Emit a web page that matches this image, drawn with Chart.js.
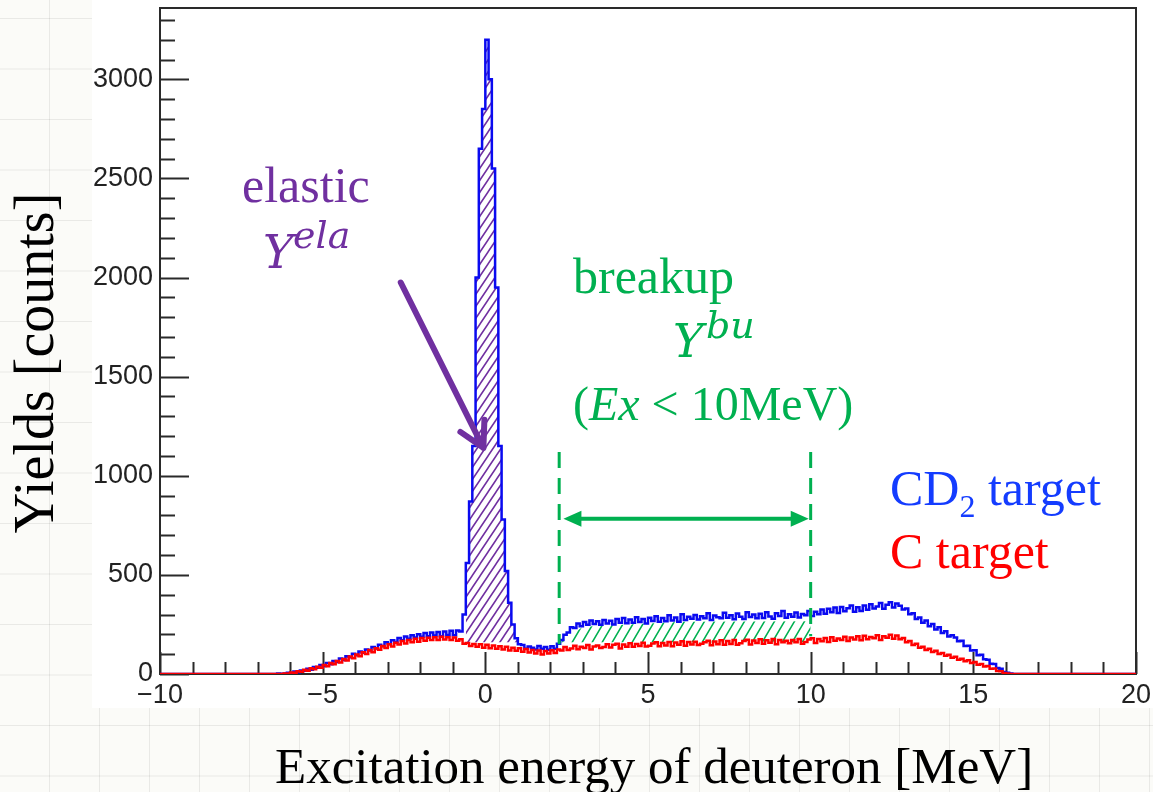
<!DOCTYPE html>
<html>
<head>
<meta charset="utf-8">
<script src="https://cdn.jsdelivr.net/npm/chart.js@4.4.1/dist/chart.umd.min.js"></script>
<style>
  html, body { margin: 0; padding: 0; background: #fff; }
  canvas { display: block; }
</style>
</head>
<body>
<canvas id="yieldChart" width="1153" height="792"></canvas>
<script>
// histogram binning (MeV): first bin left edge and bin width
const binStart = -6.5;
const binWidth = 0.1;
const xRange = [-10, 20];
const yMax = 3360;
const xTickValues = [-10, -5, 0, 5, 10, 15, 20];
const yTickValues = [0, 500, 1000, 1500, 2000, 2500, 3000];

// CD2 target counts, one row = 1 MeV (10 bins), from -6.5 to 16.4
const cd2Counts = [
    0, 0, 3, 0, 2, 6, 4, 12, 9, 18,
    16, 27, 22, 35, 31, 45, 40, 56, 49, 66,
    60, 78, 71, 89, 84, 102, 95, 114, 107, 124,
    118, 136, 129, 148, 140, 160, 151, 170, 162, 181,
    170, 189, 178, 196, 184, 201, 188, 207, 191, 210,
    194, 212, 190, 215, 197, 218, 195, 220, 215, 300,
    560, 870, 1150, 2000, 2650, 2850, 3200, 3000, 2550, 1950,
    1150, 780, 520, 360, 250, 180, 150, 146, 128, 139,
    132, 124, 141, 127, 136, 122, 140, 128, 152, 172,
    198, 210, 236, 232, 255, 241, 262, 249, 270, 252,
    266, 248, 272, 255, 269, 250, 277, 258, 283, 256,
    275, 259, 286, 262, 278, 255, 284, 268, 291, 263,
    282, 266, 296, 270, 285, 264, 302, 273, 289, 279,
    298, 275, 291, 281, 306, 272, 295, 286, 281, 309,
    284, 297, 276, 305, 289, 278, 311, 287, 300, 281,
    304, 283, 312, 290, 279, 306, 293, 318, 284, 301,
    289, 310, 285, 303, 296, 318, 292, 314, 301, 326,
    304, 329, 311, 335, 308, 338, 316, 332, 345, 314,
    337, 318, 346, 324, 352, 330, 341, 358, 329, 349,
    362, 335, 356, 344, 325, 331, 302, 306, 278, 285,
    258, 270, 241, 252, 224, 236, 207, 216, 189, 196,
    184, 165, 168, 141, 142, 118, 120, 95, 97, 74,
    72, 52, 50, 30, 26, 10, 6, 2, 0, 0
];

// C target counts, same bins
const cCounts = [
    0, 0, 0, 0, 3, 2, 8, 6, 14, 11,
    21, 17, 29, 24, 36, 31, 45, 39, 55, 49,
    65, 58, 76, 68, 88, 80, 99, 90, 110, 101,
    121, 110, 130, 122, 141, 131, 150, 139, 158, 149,
    166, 154, 172, 160, 178, 163, 181, 168, 183, 171,
    185, 172, 188, 174, 186, 171, 184, 168, 175, 152,
    157, 141, 151, 137, 150, 133, 147, 130, 144, 127,
    140, 124, 137, 119, 133, 117, 130, 112, 126, 109,
    121, 103, 118, 99, 116, 104, 120, 106, 123, 118,
    136, 121, 129, 143, 125, 138, 131, 146, 124, 139,
    144, 131, 136, 150, 134, 147, 152, 129, 149, 138,
    155, 137, 151, 141, 158, 139, 143, 154, 160, 140,
    157, 144, 162, 140, 159, 147, 165, 142, 161, 149,
    163, 146, 152, 160, 168, 145, 164, 150, 170, 148,
    166, 151, 171, 147, 155, 167, 173, 149, 169, 156,
    175, 152, 170, 158, 176, 150, 172, 160, 168, 155,
    171, 160, 177, 153, 162, 174, 180, 157, 176, 165,
    182, 161, 185, 168, 179, 171, 188, 166, 184, 174,
    190, 170, 193, 175, 187, 180, 196, 172, 191, 183,
    198, 178, 194, 175, 181, 160, 166, 146, 152, 132,
    138, 121, 128, 111, 117, 101, 106, 92, 97, 82,
    87, 72, 77, 64, 69, 56, 60, 47, 50, 38,
    40, 27, 28, 15, 14, 5, 3, 0, 0, 0
];

// hatched yields
const elasticRange = [-0.6, 1.1];
const breakupE = [2.3, 3.0, 6.1, 10.0];
const breakupTop = [158, 238, 263, 266];
const hatchFloor = 160;
const breakupCut = [2.27, 10.0];

const PURPLE = '#7030a0';
const GREEN = '#00b050';

function toSteps(counts) {
    const pts = [{ x: xRange[0], y: 0 }];
    counts.forEach((c, i) => pts.push({ x: +(binStart + i * binWidth).toFixed(2), y: c }));
    pts.push({ x: +(binStart + counts.length * binWidth).toFixed(2), y: 0 });
    pts.push({ x: xRange[1], y: 0 });
    return pts;
}

function hatch(color, w, h, lw) {
    const c = document.createElement('canvas');
    c.width = w; c.height = h;
    const g = c.getContext('2d');
    g.strokeStyle = color;
    g.lineWidth = lw;
    g.beginPath();
    for (let k = -1; k <= 1; k++) {
        g.moveTo(k * w - w, 2 * h);
        g.lineTo(k * w + 2 * w, -h);
    }
    g.stroke();
    return g.createPattern(c, 'repeat');
}

const cd2Steps = toSteps(cd2Counts);
const cSteps = toSteps(cCounts);

// elastic peak part of the CD2 histogram
const elasticSteps = cd2Steps.filter(p => p.x >= elasticRange[0] - 1e-6 && p.x < elasticRange[1] - 1e-6);
elasticSteps.push({ x: elasticRange[1], y: hatchFloor });

const breakupPts = breakupE.map((e, i) => ({ x: e, y: breakupTop[i] }));

// paper-grid background with the white plot panel
const backdrop = {
    id: 'backdrop',
    beforeDraw(chart) {
        const ctx = chart.ctx;
        const W = chart.width, H = chart.height;
        ctx.save();
        ctx.fillStyle = '#fbfbf8';
        ctx.fillRect(0, 0, W, H);
        ctx.strokeStyle = 'rgba(0,0,0,0.07)';
        ctx.lineWidth = 1;
        ctx.beginPath();
        for (let x = 49.5; x < W; x += 50) { ctx.moveTo(x, 0); ctx.lineTo(x, H); }
        for (let y = 18.5; y < H; y += 50.5) { ctx.moveTo(0, y); ctx.lineTo(W, y); }
        ctx.stroke();
        ctx.fillStyle = '#ffffff';
        ctx.fillRect(92, 0, W - 92, 708);
        ctx.restore();
    }
};

// ROOT style frame with inward ticks
const frame = {
    id: 'frame',
    beforeDatasetsDraw(chart) {
        const { ctx, chartArea: a, scales: { x, y } } = chart;
        ctx.save();
        ctx.strokeStyle = '#2a2a2a';
        ctx.lineWidth = 2;
        ctx.strokeRect(a.left, a.top, a.right - a.left, a.bottom - a.top);
        ctx.beginPath();
        for (let v = xRange[0]; v <= xRange[1]; v++) {
            const px = Math.round(x.getPixelForValue(v)) + 0.5;
            const len = v % 5 === 0 ? 22 : 12;
            ctx.moveTo(px, a.bottom);
            ctx.lineTo(px, a.bottom - len);
        }
        for (let v = 0; v <= 3300; v += 100) {
            const py = Math.round(y.getPixelForValue(v)) + 0.5;
            const len = v % 500 === 0 ? 29 : 15;
            ctx.moveTo(a.left, py);
            ctx.lineTo(a.left + len, py);
        }
        ctx.stroke();
        ctx.restore();
    }
};

function runs(ctx, x, y, parts) {
    parts.forEach(p => {
        ctx.font = p.font;
        ctx.fillText(p.t, x, y + (p.dy || 0));
        x += ctx.measureText(p.t).width;
    });
}

const notes = {
    id: 'notes',
    afterDatasetsDraw(chart) {
        const { ctx, scales: { x, y } } = chart;
        const px = v => x.getPixelForValue(v);
        const py = v => y.getPixelForValue(v);
        ctx.save();

        // dashed limits of the breakup region
        ctx.strokeStyle = GREEN;
        ctx.lineWidth = 3;
        ctx.setLineDash([16, 10]);
        ctx.beginPath();
        ctx.moveTo(px(breakupCut[0]), py(1120));
        ctx.lineTo(px(breakupCut[0]), py(150));
        ctx.moveTo(px(breakupCut[1]), py(1120));
        ctx.lineTo(px(breakupCut[1]), py(190));
        ctx.stroke();
        ctx.setLineDash([]);

        // double arrow
        const ay = py(783), x1 = px(2.4), x2 = px(9.94);
        ctx.lineWidth = 4;
        ctx.beginPath();
        ctx.moveTo(x1 + 10, ay);
        ctx.lineTo(x2 - 10, ay);
        ctx.stroke();
        ctx.fillStyle = GREEN;
        ctx.beginPath();
        ctx.moveTo(x1, ay); ctx.lineTo(x1 + 18, ay - 8); ctx.lineTo(x1 + 18, ay + 8); ctx.closePath();
        ctx.moveTo(x2, ay); ctx.lineTo(x2 - 18, ay - 8); ctx.lineTo(x2 - 18, ay + 8); ctx.closePath();
        ctx.fill();

        // elastic arrow
        const sx = px(-2.6), sy = py(1975), tx = px(-0.06), ty = py(1141);
        const ang = Math.atan2(ty - sy, tx - sx);
        ctx.strokeStyle = PURPLE;
        ctx.lineWidth = 6;
        ctx.lineCap = 'round';
        ctx.beginPath();
        ctx.moveTo(sx, sy);
        ctx.lineTo(tx, ty);
        for (const d of [-0.5, 0.5]) {
            ctx.moveTo(tx, ty);
            ctx.lineTo(tx - 28 * Math.cos(ang + d), ty - 28 * Math.sin(ang + d));
        }
        ctx.stroke();
        ctx.restore();
    },
    afterDraw(chart) {
        const ctx = chart.ctx;
        const serif = '"Liberation Serif", "Times New Roman", serif';
        ctx.save();
        ctx.textBaseline = 'alphabetic';
        ctx.textAlign = 'left';

        ctx.fillStyle = PURPLE;
        ctx.font = `50px ${serif}`;
        ctx.fillText('elastic', 242, 202);
        ctx.font = 'italic 46px "DejaVu Serif", serif';
        ctx.fillText('Y', 263, 268);
        ctx.font = 'italic 38px "DejaVu Serif", serif';
        ctx.fillText('ela', 293, 248);

        ctx.fillStyle = GREEN;
        ctx.font = `50px ${serif}`;
        ctx.fillText('breakup', 573, 293);
        ctx.font = 'italic 46px "DejaVu Serif", serif';
        ctx.fillText('Y', 673, 357);
        ctx.font = 'italic 38px "DejaVu Serif", serif';
        ctx.fillText('bu', 706, 338);
        runs(ctx, 573, 420, [
            { t: '(', font: `48px ${serif}` },
            { t: 'Ex', font: `italic 48px ${serif}` },
            { t: ' < 10MeV)', font: `48px ${serif}` }
        ]);

        ctx.fillStyle = '#143cff';
        runs(ctx, 890, 505, [
            { t: 'CD', font: `50px ${serif}` },
            { t: '2', font: `32px ${serif}`, dy: 12 },
            { t: ' target', font: `50px ${serif}` }
        ]);
        ctx.fillStyle = '#ff0000';
        ctx.font = `50px ${serif}`;
        ctx.fillText('C target', 890, 568);

        // axis titles
        ctx.fillStyle = '#000';
        ctx.font = `51px ${serif}`;
        ctx.fillText('Excitation energy of deuteron [MeV]', 275, 783);
        ctx.translate(53, 363);
        ctx.rotate(-Math.PI / 2);
        ctx.textAlign = 'center';
        ctx.font = `56px ${serif}`;
        ctx.fillText('Yields [counts]', 0, 0);
        ctx.restore();
    }
};

const tickFont = { family: '"Liberation Sans", Arial, sans-serif', size: 27 };

new Chart(document.getElementById('yieldChart'), {
    type: 'line',
    data: {
        datasets: [
            {
                label: 'C target',
                data: cSteps,
                stepped: 'after',
                borderColor: '#ff0000',
                borderWidth: 2.5,
                pointRadius: 0,
                fill: false,
                order: 0
            },
            {
                label: 'CD2 target',
                data: cd2Steps,
                stepped: 'after',
                borderColor: '#0a0af0',
                borderWidth: 2.5,
                pointRadius: 0,
                fill: false,
                order: 1
            },
            {
                label: 'elastic',
                data: elasticSteps,
                stepped: 'after',
                borderWidth: 0,
                borderColor: 'rgba(0,0,0,0)',
                backgroundColor: hatch(PURPLE, 8, 12, 1.6),
                pointRadius: 0,
                fill: { value: hatchFloor },
                order: 2
            },
            {
                label: 'breakup',
                data: breakupPts,
                borderWidth: 0,
                borderColor: 'rgba(0,0,0,0)',
                backgroundColor: hatch(GREEN, 10, 17, 1.6),
                pointRadius: 0,
                fill: { value: hatchFloor },
                order: 3
            }
        ]
    },
    options: {
        responsive: false,
        animation: false,
        devicePixelRatio: 1,
        layout: { padding: { top: 8, right: 17, left: 0, bottom: 0 } },
        plugins: {
            legend: { display: false },
            tooltip: { enabled: false }
        },
        scales: {
            x: {
                type: 'linear',
                min: xRange[0],
                max: xRange[1],
                grid: { display: false, drawTicks: false },
                border: { display: false },
                ticks: {
                    autoSkip: false,
                    color: '#222',
                    font: tickFont,
                    padding: 5,
                    maxRotation: 0,
                    callback: v => String(v).replace('-', '\u2212')
                },
                afterBuildTicks(scale) { scale.ticks = xTickValues.map(v => ({ value: v })); },
                afterFit(scale) {
                    scale.height = 118;
                    scale.paddingLeft = 0;
                    scale.paddingRight = 0;
                }
            },
            y: {
                min: 0,
                max: yMax,
                grid: { display: false, drawTicks: false },
                border: { display: false },
                ticks: {
                    autoSkip: false,
                    color: '#222',
                    font: tickFont,
                    padding: 7,
                    callback: v => String(v)
                },
                afterBuildTicks(scale) { scale.ticks = yTickValues.map(v => ({ value: v })); },
                afterFit(scale) {
                    scale.width = 160;
                    scale.paddingTop = 0;
                    scale.paddingBottom = 0;
                }
            }
        }
    },
    plugins: [backdrop, frame, notes]
});
</script>
</body>
</html>
